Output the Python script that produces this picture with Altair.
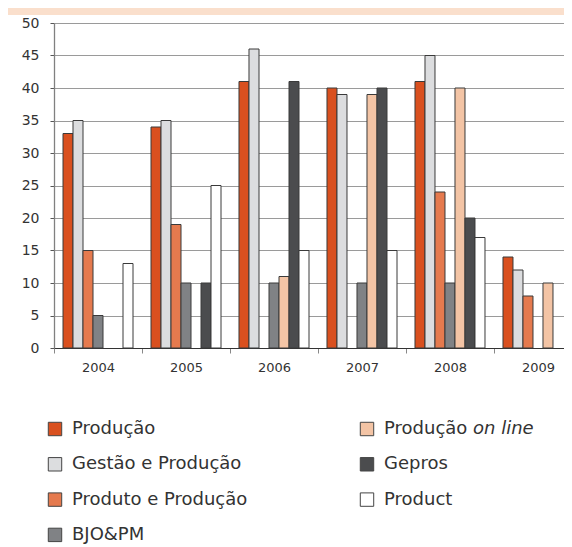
import altair as alt
import pandas as pd

years = ["2004", "2005", "2006", "2007", "2008", "2009"]
series = ["Produção", "Gestão e Produção", "Produto e Produção", "BJO&PM",
          "Produção on line", "Gepros", "Product"]
producao = [33, 34, 41, 40, 41, 14]
gestao = [35, 35, 46, 39, 45, 12]
produto = [15, 19, None, None, 24, 8]
bjo = [5, 10, 10, 10, 10, None]
online = [None, None, 11, 39, 40, 10]
gepros = [None, 10, 41, 40, 20, None]
product = [13, 25, 15, 15, 17, None]
colors = ["#D9501F", "#DCDDDF", "#E57A4E", "#808285", "#F3C4A5", "#4B4C4E", "#FFFFFF"]

values = [producao, gestao, produto, bjo, online, gepros, product]
rows = []
for s, vals in zip(series, values):
    for y, v in zip(years, vals):
        if v is not None:
            rows.append({"year": y, "series": s, "value": v})
df = pd.DataFrame(rows)

FONT = "DejaVu Sans"

bars = alt.Chart(df).mark_bar(stroke="#3a3a3a", strokeWidth=1).encode(
    x=alt.X("year:N", sort=years, title=None,
            scale=alt.Scale(range=[0, 528], paddingInner=0.2045, paddingOuter=0.1023),
            axis=alt.Axis(labelAngle=0, labelFont=FONT, labelFontSize=13, labelColor="#333",
                          domainColor="#333", domainWidth=1.2, tickColor="#888", tickSize=5,
                          tickOffset=-44, labelOffset=44, labelPadding=8)),
    xOffset=alt.XOffset("series:N", sort=series,
                        scale=alt.Scale(paddingInner=0, paddingOuter=0)),
    y=alt.Y("value:Q", title=None,
            scale=alt.Scale(domain=[0, 50], nice=False),
            axis=alt.Axis(values=list(range(0, 51, 5)), labelFont=FONT, labelFontSize=14,
                          labelColor="#333", domainColor="#808080", domainWidth=1.3,
                          tickColor="#555", tickSize=4, labelPadding=11,
                          grid=True, gridColor="#9a9a9a", gridWidth=1)),
    color=alt.Color("series:N",
                    scale=alt.Scale(domain=series, range=colors),
                    legend=alt.Legend(title=None, orient="none", legendX=-8, legendY=397,
                                      columns=2, columnPadding=110, rowPadding=17.3,
                                      symbolType="square", symbolSize=180,
                                      symbolStrokeColor="#444", symbolStrokeWidth=1,
                                      labelFont=FONT, labelFontSize=18, labelColor="#333",
                                      labelOffset=8, labelLimit=300,
                                      labelExpr="datum.label == 'Produção on line' ? 'Produção' : datum.label")),
)

band = alt.Chart(pd.DataFrame({"k": [0]})).mark_rect(color="#FADFCC").encode(
    x=alt.value(-46), x2=alt.value(510), y=alt.value(-15), y2=alt.value(-8)
)

italic = alt.Chart(pd.DataFrame({"t": ["on line"]})).mark_text(
    font=FONT, fontSize=18, fontStyle="italic", color="#333", align="left", baseline="middle"
).encode(text="t:N", x=alt.value(419), y=alt.value(406))

chart = alt.layer(band, bars, italic).properties(
    width=510, height=325,
    autosize=alt.AutoSizeParams(type="none"),
    padding={"left": 46, "top": 15, "right": 0, "bottom": 199},
).configure_view(stroke=None)

chart.save("out.html", embed_options={"renderer": "svg", "actions": False})
